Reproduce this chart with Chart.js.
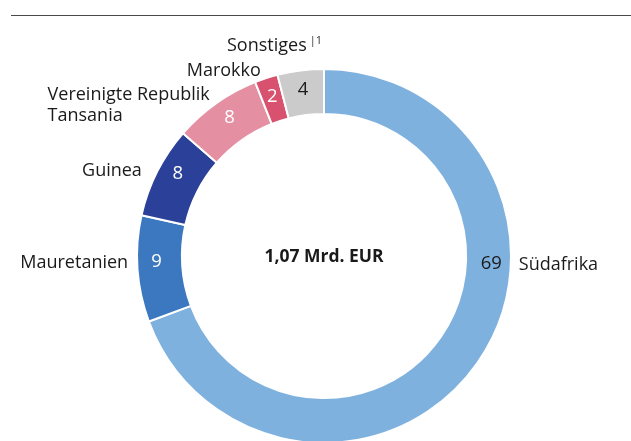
<!DOCTYPE html>
<html>
<head>
<meta charset="utf-8">
<script src="https://cdn.jsdelivr.net/npm/chart.js@4/dist/chart.umd.min.js"></script>
<style>
  html, body { margin: 0; padding: 0; background: #fff; overflow: hidden; width: 631px; height: 441px; }
  #rule { position: absolute; left: 11px; right: 0; top: 15px; height: 1px; background: #4a4a4a; }
  canvas { position: absolute; left: 0; top: 0; }
</style>
</head>
<body>
<div id="rule"></div>
<canvas id="chart" width="631" height="460"></canvas>
<script>
/* ═══════════════ DATA ═══════════════ */
const countries = ['Südafrika', 'Mauretanien', 'Guinea', 'Vereinigte Republik\nTansania', 'Marokko', 'Sonstiges'];
const shares = [69.3, 9.2, 7.9, 7.6, 2.0, 4.0];
const shareLabels = ['69', '9', '8', '8', '2', '4'];
const totalLabel = '1,07 Mrd. EUR';
const footnoteMark = '|1';   // after "Sonstiges"

/* ═══════════════ STYLE ═══════════════ */
const sliceColors = ['#7fb1df', '#3c78bf', '#2b4199', '#e590a2', '#d8526f', '#cbcbcb'];
const valueColors = ['#1a1a1a', '#ffffff', '#ffffff', '#ffffff', '#ffffff', '#1a1a1a'];
const FONT = "'Open Sans', 'Noto Sans', sans-serif";
const TEXT = '#1a1a1a';

// outer label placement: angle shift (deg) from slice middle, distance past the outer edge, alignment
const outerPlace = [
  { shift: -32,  gap: 8,  align: 'left' },
  { shift: 2,    gap: 9,  align: 'right' },
  { shift: -1.8, gap: 14, align: 'right' },
  { shift: -1.9, gap: 2,  align: 'block' },
  { shift: -0.8, gap: 9,  align: 'right' },
  { shift: 2.5,  gap: 24, align: 'right' }
];
// value label angle shift (deg) from slice middle
const valueShift = [-32, 2, 2.4, 1, 0, 0];

const rad = d => d * Math.PI / 180;

const labelPlugin = {
  id: 'sliceLabels',
  afterDatasetsDraw(chart) {
    const ctx = chart.ctx;
    const meta = chart.getDatasetMeta(0);
    ctx.save();
    ctx.textBaseline = 'middle';

    meta.data.forEach((arc, i) => {
      const p = arc.getProps(['x', 'y', 'startAngle', 'endAngle', 'innerRadius', 'outerRadius'], true);
      const mid = (p.startAngle + p.endAngle) / 2;

      // value inside the ring
      const va = mid + rad(valueShift[i]);
      const vr = (p.innerRadius + p.outerRadius) / 2 + 3;
      ctx.font = '18.5px ' + FONT;
      ctx.fillStyle = valueColors[i];
      ctx.textAlign = 'center';
      ctx.fillText(shareLabels[i], p.x + Math.cos(va) * vr, p.y + Math.sin(va) * vr);

      // country name outside
      const o = outerPlace[i];
      const oa = mid + rad(o.shift);
      const or = p.outerRadius + o.gap;
      const ax = p.x + Math.cos(oa) * or;
      const ay = p.y + Math.sin(oa) * or;
      const lines = countries[i].split('\n');
      ctx.fillStyle = TEXT;
      ctx.font = '18px ' + FONT;
      if (o.align === 'block') {
        const w = Math.max(...lines.map(l => ctx.measureText(l).width));
        const lh = 21;
        ctx.textAlign = 'left';
        lines.forEach((l, k) => ctx.fillText(l, ax - w, ay - (lines.length - 1) * lh / 2 + k * lh));
      } else {
        ctx.textAlign = o.align;
        ctx.fillText(lines[0], ax, ay);
      }

      if (i === countries.length - 1) {
        ctx.font = '11px ' + FONT;
        ctx.textAlign = 'left';
        ctx.fillStyle = '#333';
        ctx.fillText(footnoteMark, ax + 3, ay - 5);
      }
    });

    // total in the centre
    const c = meta.data[0];
    ctx.font = 'bold 17.5px ' + FONT;
    ctx.fillStyle = TEXT;
    ctx.textAlign = 'center';
    ctx.fillText(totalLabel, c.x, c.y + 1);
    ctx.restore();
  }
};

new Chart(document.getElementById('chart'), {
  type: 'doughnut',
  data: {
    labels: countries,
    datasets: [{
      data: shares,
      backgroundColor: sliceColors,
      borderColor: '#ffffff',
      borderWidth: 2
    }]
  },
  options: {
    responsive: false,
    animation: false,
    cutout: '76%',
    layout: { padding: { left: 136, right: 119, top: 67, bottom: 15 } },
    plugins: {
      legend: { display: false },
      tooltip: { enabled: false }
    }
  },
  plugins: [labelPlugin]
});
</script>
</body>
</html>
